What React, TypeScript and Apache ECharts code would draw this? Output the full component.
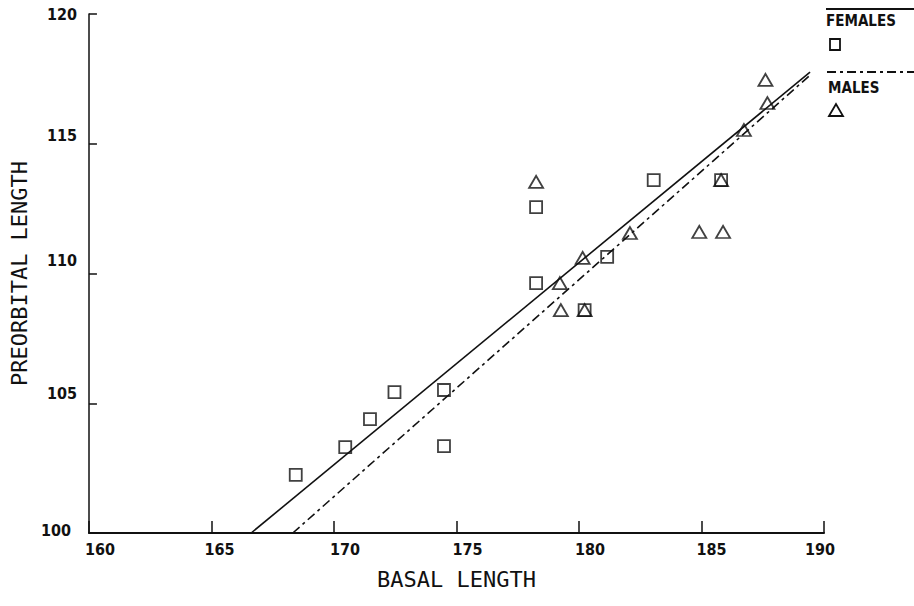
import React, { useEffect, useRef } from "react";
import * as echarts from "echarts";

// Data
const femaleBasal = [168.44, 170.46, 171.47, 172.47, 174.49, 174.49, 178.25, 178.25, 180.23, 181.15, 183.05, 185.8];
const femalePreorbital = [102.24, 103.31, 104.39, 105.43, 105.51, 103.35, 112.56, 109.63, 108.59, 110.64, 113.6, 113.6];
const maleBasal = [178.25, 179.22, 179.26, 180.15, 180.23, 182.08, 184.91, 185.88, 185.8, 186.73, 187.69, 187.61];
const malePreorbital = [113.53, 109.63, 108.59, 110.6, 108.59, 111.56, 111.6, 111.6, 113.6, 115.53, 116.57, 117.46];
const femaleFitX = [166.62, 189.43];
const femaleFitY = [100, 117.76];
const maleFitX = [168.32, 189.5];
const maleFitY = [100, 117.7];
const xTickLabels = [160, 165, 170, 175, 180, 185, 190];
const yTickLabels = [100, 105, 110, 115, 120];
const legendNames = ["FEMALES", "MALES"];

const pairs = (xs: number[], ys: number[]) => xs.map((x, i) => [x, ys[i]]);

const tickFont = "'Liberation Sans Narrow', 'DejaVu Sans Condensed', sans-serif";
const titleFont = "'DejaVu Sans Mono', monospace";

export default function App() {
  const ref = useRef<HTMLDivElement>(null);
  useEffect(() => {
    if (!ref.current) return;
    const chart = echarts.init(ref.current, undefined, { renderer: "svg" });
    const ink = "#111";
    const xRich: Record<string, any> = {
      x160: { padding: [0, 0, 0, 22] },
      x165: { padding: [0, 0, 0, 16] },
      x170: { padding: [0, 0, 0, 22] },
      x175: { padding: [0, 0, 0, 22] },
      x180: { padding: [0, 0, 0, 22] },
      x185: { padding: [0, 0, 0, 20] },
      x190: { padding: [0, 8, 0, 0] },
    };
    Object.keys(xRich).forEach((k) => {
      xRich[k] = { ...xRich[k], fontFamily: tickFont, fontWeight: "bold", fontSize: 16, color: ink };
    });
    const yRich: Record<string, any> = {
      y100: { padding: [0, 6, 6, 0] },
      y105: { padding: [0, 0, 20, 0] },
      y110: { padding: [0, 0, 27, 0] },
      y115: { padding: [0, 0, 16, 0] },
      y120: { padding: [0, 0, 0, 0] },
    };
    Object.keys(yRich).forEach((k) => {
      yRich[k] = { ...yRich[k], fontFamily: tickFont, fontWeight: "bold", fontSize: 16, color: ink };
    });

    chart.setOption({
      animation: false,
      backgroundColor: "#fff",
      grid: { left: 81, right: 90, top: 14, bottom: 73, containLabel: false },
      xAxis: {
        type: "value",
        min: 160,
        max: 190,
        interval: 5,
        name: "BASAL LENGTH",
        nameLocation: "middle",
        nameGap: 35,
        nameTextStyle: { fontFamily: titleFont, fontSize: 22, color: ink },
        axisLine: { show: true, lineStyle: { color: ink, width: 2 } },
        axisTick: { show: true, inside: true, length: 12, lineStyle: { color: ink, width: 1.5 } },
        splitLine: { show: false },
        axisLabel: {
          margin: 8,
          formatter: (v: number) => (xTickLabels.includes(v) ? `{x${v}|${v}}` : ""),
          rich: xRich,
        },
      },
      yAxis: {
        type: "value",
        min: 100,
        max: 120,
        interval: 5,
        name: "PREORBITAL LENGTH",
        nameLocation: "middle",
        nameGap: 46,
        nameTextStyle: { fontFamily: titleFont, fontSize: 22, color: ink },
        axisLine: { show: true, lineStyle: { color: ink, width: 1.5 } },
        axisTick: { show: true, inside: true, length: 8, lineStyle: { color: ink, width: 1.5 } },
        splitLine: { show: false },
        axisLabel: {
          margin: 12,
          formatter: (v: number) => (yTickLabels.includes(v) ? `{y${v}|${v}}` : ""),
          rich: yRich,
        },
      },
      series: [
        {
          name: legendNames[0] + " fit",
          type: "line",
          data: pairs(femaleFitX, femaleFitY),
          symbol: "none",
          lineStyle: { color: ink, width: 1.6, type: "solid" },
          z: 2,
        },
        {
          name: legendNames[1] + " fit",
          type: "line",
          data: pairs(maleFitX, maleFitY),
          symbol: "none",
          lineStyle: { color: ink, width: 1.6, type: [9, 4, 3, 4] },
          z: 2,
        },
        {
          name: legendNames[0],
          type: "scatter",
          data: pairs(femaleBasal, femalePreorbital),
          symbol: "rect",
          symbolSize: 12,
          itemStyle: { color: "rgba(0,0,0,0)", borderColor: ink, borderWidth: 1.8 },
          z: 3,
        },
        {
          name: legendNames[1],
          type: "scatter",
          data: pairs(maleBasal, malePreorbital),
          symbol: "triangle",
          symbolSize: [14, 12],
          itemStyle: { color: "rgba(0,0,0,0)", borderColor: ink, borderWidth: 1.8 },
          z: 3,
        },
      ],
      graphic: [
        { type: "line", shape: { x1: 826, y1: 9, x2: 914, y2: 9 }, style: { stroke: ink, lineWidth: 1.8 } },
        {
          type: "text",
          x: 826,
          y: 13,
          style: { text: legendNames[0], fill: ink, font: `bold 15px ${tickFont}` },
        },
        { type: "rect", shape: { x: 830, y: 39, width: 10, height: 11 }, style: { fill: "none", stroke: ink, lineWidth: 1.8 } },
        {
          type: "line",
          shape: { x1: 827, y1: 72, x2: 914, y2: 72 },
          style: { stroke: ink, lineWidth: 1.8, lineDash: [9, 4, 3, 4] },
        },
        {
          type: "text",
          x: 828,
          y: 80,
          style: { text: legendNames[1], fill: ink, font: `bold 15px ${tickFont}` },
        },
        {
          type: "polygon",
          shape: { points: [[829, 116], [836, 104], [843, 116]] },
          style: { fill: "none", stroke: ink, lineWidth: 1.8 },
        },
      ],
    });
    return () => chart.dispose();
  }, []);
  return (
    <div
      ref={ref}
      style={{ position: "fixed", left: 0, top: 0, width: 914, height: 606, background: "#fff" }}
    />
  );
}
